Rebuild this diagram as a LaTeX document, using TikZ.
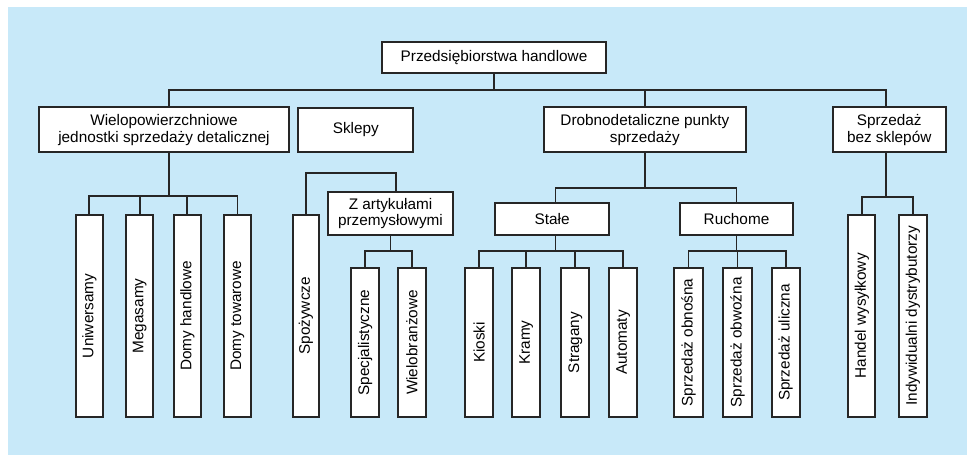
\documentclass[tikz,border=0pt]{standalone}
\usepackage{fontspec}
\setmainfont{Liberation Sans}
\definecolor{bgblue}{RGB}{200,233,249}
\definecolor{lncol}{RGB}{38,38,38}
\tikzset{
  box/.style={draw=lncol, fill=white, line width=1.3pt, inner sep=0pt, outer sep=0pt,
    align=center, font=\fontsize{11.5}{12.5}\selectfont},
  conn/.style={draw=lncol, line width=1.3pt}
}
\newcommand\hbx[6]{\node[box, minimum width={((#4)-(#2))*0.75pt}, minimum height={((#5)-(#3))*0.75pt}] (#1) at ({((#2)+(#4))/2},{((#3)+(#5))/2}) {#6};}
\newcommand\vbx[6]{\node[box, rotate=90, minimum width={((#5)-(#3))*0.75pt}, minimum height={((#4)-(#2))*0.75pt}] (#1) at ({((#2)+(#4))/2},{((#3)+(#5))/2}) {#6};}
\begin{document}
\begin{tikzpicture}[x=0.75pt,y=-0.75pt]
\useasboundingbox (0,0) rectangle (967,455);
\fill[bgblue] (8,7) rectangle (967,455);
% level 0
\hbx{root}{382}{42}{606}{73}{Przedsiębiorstwa handlowe}
% level 1
\hbx{wiel}{39.3}{107.3}{288.7}{152.3}{Wielopowierzchniowe\\jednostki sprzedaży detalicznej}
\hbx{skl}{298.3}{108.3}{413.3}{151.7}{Sklepy}
\hbx{drob}{544}{107.3}{745.7}{152.3}{Drobnodetaliczne punkty\\sprzedaży}
\hbx{sbs}{832.7}{107.3}{945.7}{152.3}{Sprzedaż\\bez sklepów}
% level 2
\hbx{zart}{328.3}{192.3}{452.7}{235}{Z artykułami\\przemysłowymi}
\hbx{stale}{495}{202.7}{609.3}{235}{Stałe}
\hbx{ruch}{680.3}{202.7}{792.7}{235}{Ruchome}
% vertical boxes
\vbx{uni}{76}{215}{102.7}{416.7}{Uniwersamy}
\vbx{meg}{126}{215}{153.3}{416.7}{Megasamy}
\vbx{dh}{173.7}{215}{201}{416.7}{Domy handlowe}
\vbx{dt}{224}{215}{251}{416.7}{Domy towarowe}
\vbx{spoz}{292.7}{215}{319.3}{416.7}{Spożywcze}
\vbx{spec}{351}{268.3}{379.3}{416.7}{Specjalistyczne}
\vbx{wbr}{397.7}{268.3}{426}{416.7}{Wielobranżowe}
\vbx{kio}{465}{268.3}{493.3}{416.7}{Kioski}
\vbx{kra}{512}{268.3}{540.3}{416.7}{Kramy}
\vbx{str}{561.3}{268.3}{589.3}{416.7}{Stragany}
\vbx{aut}{609.3}{268.3}{637.3}{416.7}{Automaty}
\vbx{obn}{674.3}{268.3}{702.7}{416.7}{Sprzedaż obnośna}
\vbx{obw}{723.3}{268.3}{751.7}{416.7}{Sprzedaż obwoźna}
\vbx{uli}{771.7}{268.3}{799.7}{416.7}{Sprzedaż uliczna}
\vbx{hw}{848.3}{215}{875.3}{416.7}{Handel wysyłkowy}
\vbx{ind}{899.3}{215}{926.7}{416.7}{Indywidualni dystrybutorzy}
% stem points
\coordinate (wielN) at ([xshift=3.75pt]wiel.north);
\coordinate (wielS) at ([xshift=3.75pt]wiel.south);
\coordinate (sbsN) at ([xshift=-2.6pt]sbs.north);
\coordinate (sbsS) at ([xshift=-2.6pt]sbs.south);
\coordinate (zartN) at ([xshift=3.9pt]zart.north);
\coordinate (staleN) at ([xshift=2.6pt]stale.north);
\coordinate (staleS) at ([xshift=2.6pt]stale.south);
% connectors
\foreach \c in {wielN,drob.north,sbsN}
  \draw[conn] (root.south) -- (root.south |- 0,90) -| (\c);
\foreach \c in {uni,meg,dh,dt}
  \draw[conn] (wielS) -- (wielS |- 0,195.7) -| (\c.east);
\draw[conn] (spoz.east) |- (zartN |- 0,173) -- (zartN);
\foreach \c in {spec,wbr}
  \draw[conn] (zart.south) -- (zart.south |- 0,250.7) -| (\c.east);
\foreach \c in {staleN,ruch.north}
  \draw[conn] (drob.south) -- (drob.south |- 0,187.7) -| (\c);
\foreach \c in {kio,kra,str,aut}
  \draw[conn] (staleS) -- (staleS |- 0,250.7) -| (\c.east);
\foreach \c in {obn,obw,uli}
  \draw[conn] (ruch.south) -- (ruch.south |- 0,250.7) -| (\c.east);
\foreach \c in {hw,ind}
  \draw[conn] (sbsS) -- (sbsS |- 0,197.3) -| (\c.east);
\end{tikzpicture}
\end{document}
